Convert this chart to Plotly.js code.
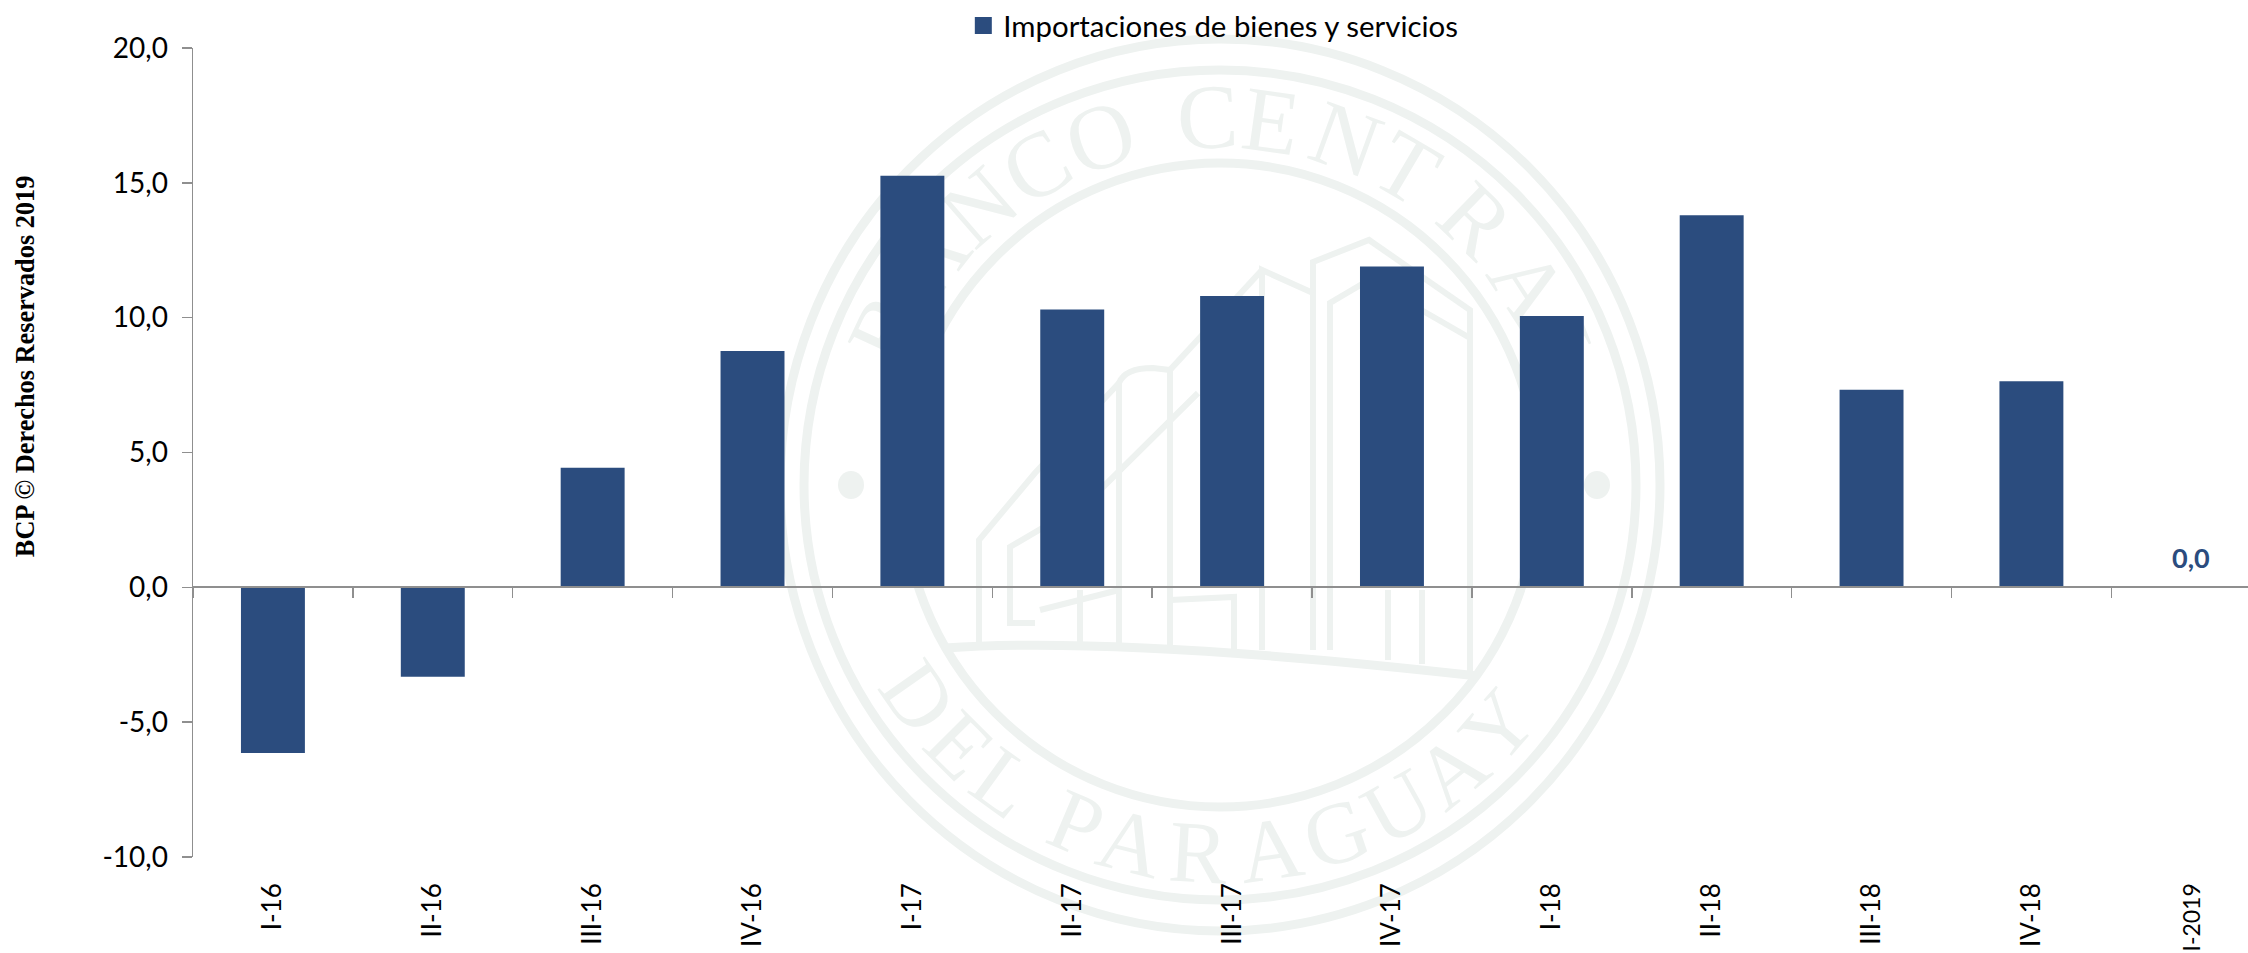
<!DOCTYPE html>
<html>
<head>
<meta charset="utf-8">
<script src="https://cdn.plot.ly/plotly-3.0.1.min.js"></script>
<style>
html,body{margin:0;padding:0;background:#fff;width:2248px;height:953px;overflow:hidden}
#seal,#chart{position:absolute;left:0;top:0;width:2248px;height:953px}
</style>
</head>
<body>
<div id="seal"></div>
<div id="chart"></div>
<script>
var categories = ['I-16','II-16','III-16','IV-16','I-17','II-17','III-17','IV-17','I-18','II-18','III-18','IV-18','I-2019'];
var importaciones = [-6.14,-3.32,4.43,8.76,15.26,10.3,10.8,11.9,10.06,13.8,7.33,7.64,0];
var lastBarLabel = '0,0';
var yTickValues = [-10,-5,0,5,10,15,20];
var yTickLabels = ['-10,0','-5,0','0,0','5,0','10,0','15,0','20,0'];
var seriesName = 'Importaciones de bienes y servicios';
var copyright = 'BCP © Derechos Reservados 2019';
var sealTop = 'BANCO CENTRAL';
var sealTopAngles = [-65,-52,-41,-30,-19,0,-2,8,20,30.5,44,57,69];
var sealBottom = 'DEL PARAGUAY';
var sealBottomAngles = [-55,-45,-36,0,-23,-14,-3.4,8,18.5,29,39,49];

var BLUE = '#2b4c7e', AXIS = '#8f8f8f', INK = '#000000', PALE = '#eef2f0';
var SANS = 'Lato, "Open Sans", sans-serif';
var W = 2248, H = 953, L = 192.5, T = 47, B = 96;
var plotW = W - L, plotH = H - T - B;

/* ---------- watermark seal, behind the chart ---------- */
var cx = 1220, cy = 485;
function ring(rx, ry, w){
  return {type:'circle',xref:'x',yref:'y',x0:cx-rx,x1:cx+rx,y0:cy-ry,y1:cy+ry,line:{color:PALE,width:w}};
}
function path(d, w){ return {type:'path',xref:'x',yref:'y',path:d,line:{color:PALE,width:w||6}}; }
var sealShapes = [
  ring(440,446,9), ring(416,415,9), ring(318,322,9),
  {type:'circle',xref:'x',yref:'y',x0:838,x1:864,y0:471,y1:499,fillcolor:PALE,line:{width:0}},
  {type:'circle',xref:'x',yref:'y',x0:1584,x1:1610,y0:471,y1:499,fillcolor:PALE,line:{width:0}},
  path('M 945 648 Q 1120 636 1478 676',9),
  path('M 1313 650 L 1313 262 L 1369 240 L 1470 310 L 1470 673'),
  path('M 1330 650 L 1330 303 L 1369 280 L 1470 338'),
  path('M 1262 650 L 1262 270 L 1313 293'),
  path('M 1262 270 L 1170 370 L 1170 645'),
  path('M 1119 645 L 1119 383 Q 1125 368 1153 368 L 1170 370'),
  path('M 1119 383 L 1035 473 L 979 540 L 979 650'),
  path('M 1198 393 L 1090 500 L 1010 547 L 1010 623 L 1035 623'),
  path('M 1080 590 L 1080 643'),
  path('M 1040 610 L 1119 590'),
  path('M 1170 600 L 1234 597 L 1234 650'),
  path('M 1388 590 L 1388 660'),
  path('M 1422 590 L 1422 664')
];
var sealText = [];
function letter(ch, xp, yp, ang, size){
  if (ch === ' ') return;
  sealText.push({text:ch,xref:'x',yref:'y',x:xp,y:yp,textangle:ang,showarrow:false,
    xanchor:'center',yanchor:'middle',font:{family:'"Liberation Serif", serif',size:size,color:PALE}});
}
sealTop.split('').forEach(function(ch,i){
  var a = sealTopAngles[i], t = a*Math.PI/180;
  letter(ch, cx+368*Math.sin(t), cy-368*Math.cos(t), a, 92);
});
sealBottom.split('').forEach(function(ch,i){
  var a = sealBottomAngles[i], t = a*Math.PI/180;
  letter(ch, cx+368*Math.sin(t), cy+368*Math.cos(t), -a, 88);
});
Plotly.newPlot('seal', [], {
  width:W, height:H, margin:{l:0,r:0,t:0,b:0}, showlegend:false,
  paper_bgcolor:'#ffffff', plot_bgcolor:'#ffffff',
  xaxis:{range:[0,W],visible:false,fixedrange:true},
  yaxis:{range:[H,0],visible:false,fixedrange:true},
  shapes:sealShapes, annotations:sealText
}, {staticPlot:true});

/* ---------- chart ---------- */
var bars = {
  type:'bar', name:seriesName, x:categories, y:importaciones, xaxis:'x', yaxis:'y',
  width:0.4, marker:{color:BLUE,line:{width:0}}, showlegend:false
};
var legendKey = {
  type:'bar', name:seriesName, x:[categories[12]], y:[null], xaxis:'x', yaxis:'y',
  width:0.4, marker:{color:BLUE,line:{color:BLUE,width:6}}
};
var labelAxisTrace = {
  type:'scatter', mode:'markers', x:categories, y:categories.map(function(){return null;}),
  xaxis:'x2', yaxis:'y', showlegend:false, hoverinfo:'skip'
};
var xTickText = categories.map(function(c){
  return c.length > 5 && c.indexOf('20') > 0 ? '<span style="font-size:23px">'+c+'</span>' : c;
});
var xRange = [-0.5, -0.5 + plotW/159.9];
Plotly.newPlot('chart', [bars, legendKey, labelAxisTrace], {
  width:W, height:H,
  margin:{l:L,r:0,t:T,b:B,pad:0},
  paper_bgcolor:'rgba(0,0,0,0)', plot_bgcolor:'rgba(0,0,0,0)',
  font:{family:SANS,color:INK},
  barmode:'overlay',
  showlegend:true,
  legend:{x:(963-L)/plotW,xanchor:'left',y:1+(T-25)/plotH,yanchor:'middle',orientation:'h',
    bgcolor:'rgba(0,0,0,0)',borderwidth:0,font:{family:SANS,size:29.4,color:INK}},
  xaxis:{type:'category',categoryorder:'array',categoryarray:categories,range:xRange,
    anchor:'free',position:(0-(-10))/30,
    showgrid:false,zeroline:false,showline:true,linecolor:AXIS,linewidth:2,
    ticks:'outside',tickson:'boundaries',ticklen:10,tickwidth:1.5,tickcolor:AXIS,showticklabels:false},
  xaxis2:{type:'category',categoryorder:'array',categoryarray:categories,range:xRange,
    overlaying:'x',anchor:'free',position:0,side:'bottom',
    showgrid:false,zeroline:false,showline:false,ticks:'',
    tickmode:'array',tickvals:categories,ticktext:xTickText,
    tickangle:-90,ticklabelstandoff:20,tickfont:{family:SANS,size:26,color:INK}},
  yaxis:{range:[-10,20],tickmode:'array',tickvals:yTickValues,ticktext:yTickLabels,
    showgrid:false,zeroline:false,showline:true,linecolor:AXIS,linewidth:1.5,
    ticks:'outside',ticklen:10,tickwidth:1.5,tickcolor:AXIS,ticklabelstandoff:8,
    tickfont:{family:SANS,size:28,color:INK}},
  annotations:[
    {text:'<b>'+copyright+'</b>',xref:'paper',yref:'paper',
     x:(25-L)/plotW,y:1-(366-T)/plotH,textangle:-90,showarrow:false,
     xanchor:'center',yanchor:'middle',font:{family:'"Liberation Serif", serif',size:26.3,color:INK}},
    {text:'<b>'+lastBarLabel+'</b>',xref:'x',yref:'y',x:categories[12],y:importaciones[12],
     showarrow:false,xanchor:'center',yanchor:'bottom',yshift:11,
     font:{family:SANS,size:27,color:BLUE}}
  ]
}, {staticPlot:true});
</script>
</body>
</html>
